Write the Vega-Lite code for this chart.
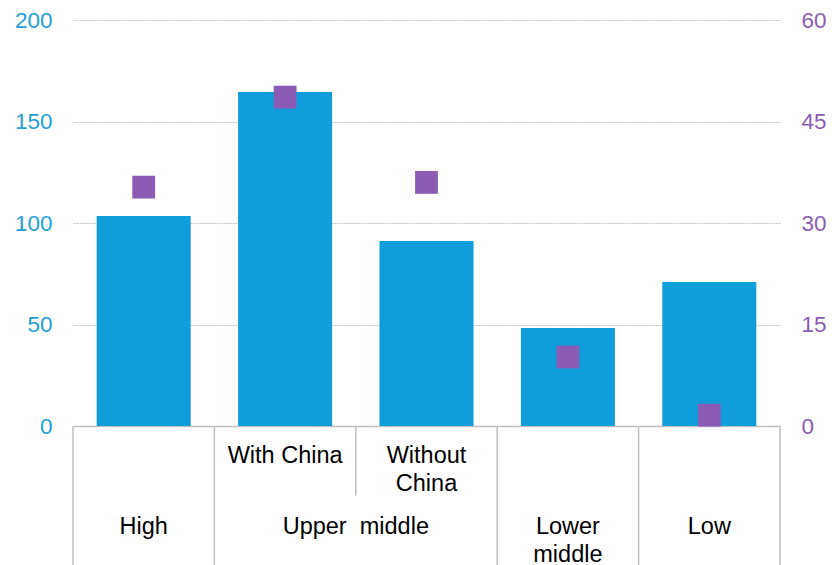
{
  "$schema": "https://vega.github.io/schema/vega-lite/v6.json",
  "padding": {"top": 9, "left": 14, "right": 0, "bottom": 0},
  "config": {"font": "Liberation Sans", "view": {"stroke": null}},
  "datasets": {
    "main": [
      {"cat": "High", "value": 103.4, "share": 35.3},
      {"cat": "With China", "value": 164.5, "share": 48.6},
      {"cat": "Without China", "value": 91.1, "share": 36.0},
      {"cat": "Lower middle", "value": 48.3, "share": 10.2},
      {"cat": "Low", "value": 70.9, "share": 1.6}
    ],
    "labels": [
      {"x": 0.5, "y": 0.625, "text": "High"},
      {"x": 1.5, "y": 0.115, "text": "With China"},
      {"x": 2.5, "y": 0.115, "text": "Without\nChina"},
      {"x": 2.0, "y": 0.625, "text": "Upper\u00a0 middle"},
      {"x": 3.5, "y": 0.625, "text": "Lower\nmiddle"},
      {"x": 4.5, "y": 0.625, "text": "Low"}
    ],
    "lines": [
      {"x": 0, "y1": 0, "y2": 1},
      {"x": 1, "y1": 0, "y2": 1},
      {"x": 2, "y1": 0, "y2": 0.5},
      {"x": 3, "y1": 0, "y2": 1},
      {"x": 4, "y1": 0, "y2": 1},
      {"x": 5, "y1": 0, "y2": 1}
    ]
  },
  "spacing": 0,
  "bounds": "flush",
  "resolve": {"scale": {"x": "independent", "y": "independent"}},
  "vconcat": [
    {
      "width": 707,
      "height": 406,
      "data": {"name": "main"},
      "encoding": {
        "x": {
          "field": "cat", "type": "nominal", "sort": null,
          "scale": {"paddingInner": 0.335, "paddingOuter": 0.1675},
          "axis": {"labels": false, "ticks": false, "title": null, "domain": true, "domainColor": "#BFBFBF", "domainWidth": 1.5}
        }
      },
      "layer": [
        {
          "mark": {"type": "bar", "color": "#0F9ED9"},
          "encoding": {
            "y": {
              "field": "value", "type": "quantitative",
              "scale": {"domain": [0, 200]},
              "axis": {
                "values": [0, 50, 100, 150, 200], "title": null, "domain": false, "ticks": false,
                "labelColor": "#1E9FD9", "labelFontSize": 22.5, "labelPadding": 21,
                "grid": true, "gridColor": "#C4C4C4", "gridDash": [2, 1], "gridWidth": 1
              }
            }
          }
        },
        {
          "mark": {"type": "point", "shape": "square", "filled": true, "size": 520, "color": "#8B5CB5", "opacity": 1},
          "encoding": {
            "y": {
              "field": "share", "type": "quantitative",
              "scale": {"domain": [0, 60]},
              "axis": {
                "orient": "right", "values": [0, 15, 30, 45, 60], "title": null, "domain": false, "ticks": false,
                "labelColor": "#8B5CB5", "labelFontSize": 22.5, "labelPadding": 21, "grid": false
              }
            }
          }
        }
      ],
      "resolve": {"scale": {"y": "independent"}}
    },
    {
      "width": 707,
      "height": 139,
      "layer": [
        {
          "data": {"name": "lines"},
          "mark": {"type": "rule", "color": "#BFBFBF", "strokeWidth": 1.5},
          "encoding": {
            "x": {"field": "x", "type": "quantitative", "scale": {"domain": [0, 5], "nice": false, "zero": false}, "axis": null},
            "y": {"field": "y1", "type": "quantitative", "scale": {"domain": [0, 1], "reverse": true, "nice": false}, "axis": null},
            "y2": {"field": "y2"}
          }
        },
        {
          "data": {"name": "labels"},
          "mark": {"type": "text", "fontSize": 23.5, "color": "#000000", "baseline": "line-top", "lineHeight": 28, "lineBreak": "\n", "align": "center"},
          "encoding": {
            "x": {"field": "x", "type": "quantitative", "axis": null},
            "y": {"field": "y", "type": "quantitative", "axis": null},
            "text": {"field": "text"}
          }
        }
      ]
    }
  ]
}
